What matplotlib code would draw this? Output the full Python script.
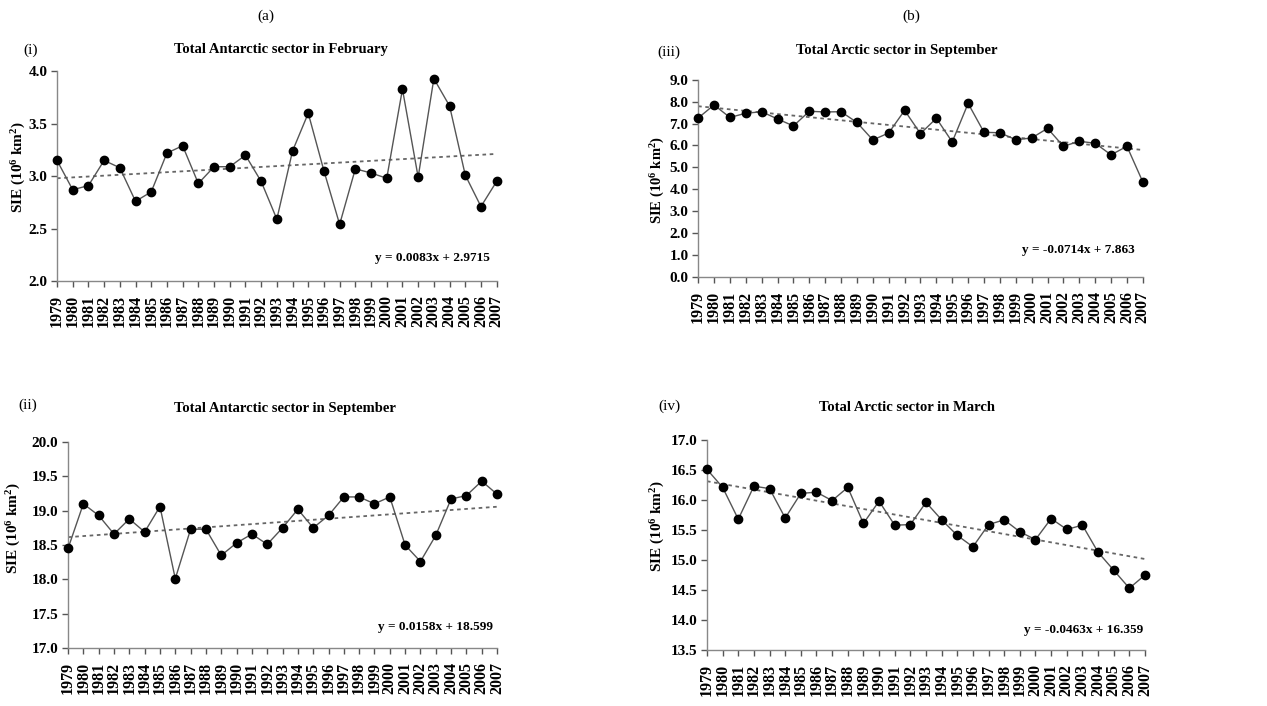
import matplotlib
matplotlib.use("Agg")
import matplotlib.pyplot as plt
import numpy as np

plt.rcParams['font.family'] = ['Liberation Serif', 'DejaVu Serif']
plt.rcParams['mathtext.fontset'] = 'custom'
plt.rcParams['mathtext.rm'] = 'Liberation Serif:bold'
plt.rcParams['mathtext.bf'] = 'Liberation Serif:bold'
plt.rcParams['mathtext.default'] = 'bf'

years = list(range(1979, 2008))
year_labels = [str(y) for y in years]

ant_feb = [3.15, 2.87, 2.91, 3.15, 3.08, 2.76, 2.85, 3.22, 3.29, 2.93,
           3.09, 3.09, 3.20, 2.95, 2.59, 3.24, 3.60, 3.05, 2.54, 3.07,
           3.03, 2.98, 3.83, 2.99, 3.93, 3.67, 3.01, 2.71, 2.95]
arc_sep = [7.25, 7.85, 7.28, 7.47, 7.54, 7.21, 6.89, 7.56, 7.53, 7.54,
           7.05, 6.25, 6.57, 7.60, 6.54, 7.24, 6.16, 7.92, 6.60, 6.58,
           6.26, 6.34, 6.78, 5.96, 6.19, 6.10, 5.57, 5.96, 4.33]
ant_sep = [18.45, 19.10, 18.93, 18.66, 18.88, 18.69, 19.06, 18.01, 18.73, 18.73,
           18.35, 18.53, 18.66, 18.51, 18.75, 19.02, 18.75, 18.93, 19.20, 19.20,
           19.10, 19.20, 18.50, 18.26, 18.64, 19.17, 19.22, 19.43, 19.24]
arc_mar = [16.51, 16.21, 15.68, 16.23, 16.19, 15.70, 16.11, 16.13, 15.99, 16.21,
           15.61, 15.98, 15.58, 15.59, 15.96, 15.67, 15.41, 15.22, 15.59, 15.67,
           15.47, 15.34, 15.69, 15.51, 15.58, 15.13, 14.83, 14.53, 14.75]

# trend coefficients (slope, intercept) as printed on the chart
trend_ant_feb = (0.0083, 2.9715)
trend_arc_sep = (-0.0714, 7.863)
trend_ant_sep = (0.0158, 18.599)
trend_arc_mar = (-0.0463, 16.359)

titles = ['Total Antarctic sector in February', 'Total Arctic sector in September',
          'Total Antarctic sector in September', 'Total Arctic sector in March']
eq_texts = ['y = 0.0083x + 2.9715', 'y = -0.0714x + 7.863',
            'y = 0.0158x + 18.599', 'y = -0.0463x + 16.359']

fig = plt.figure(figsize=(12.67, 7.06), dpi=100)

panels = [
    dict(rect=[0.045, 0.602, 0.347, 0.297], data=ant_feb, trend=trend_ant_feb,
         ylim=(2.0, 4.0), yticks=np.arange(2.0, 4.01, 0.5), eq=eq_texts[0],
         eqpos=(0.984, 0.11), ylab=(-0.066, 0.545), ylfs=11),
    dict(rect=[0.551, 0.608, 0.351, 0.279], data=arc_sep, trend=trend_arc_sep,
         ylim=(0.0, 9.0), yticks=np.arange(0.0, 9.01, 1.0), eq=eq_texts[1],
         eqpos=(0.982, 0.137), ylab=(-0.069, 0.49), ylfs=10.5),
    dict(rect=[0.0537, 0.082, 0.3386, 0.292], data=ant_sep, trend=trend_ant_sep,
         ylim=(17.0, 20.0), yticks=np.arange(17.0, 20.01, 0.5), eq=eq_texts[2],
         eqpos=(0.99, 0.10), ylab=(-0.105, 0.58), ylfs=11),
    dict(rect=[0.558, 0.0793, 0.3457, 0.2975], data=arc_mar, trend=trend_arc_mar,
         ylim=(13.5, 17.0), yticks=np.arange(13.5, 17.01, 0.5), eq=eq_texts[3],
         eqpos=(0.995, 0.095), ylab=(-0.091, 0.59), ylfs=11),
]

for p in panels:
    ax = fig.add_axes(p['rect'])
    x = np.arange(1, len(years) + 1)
    slope, icpt = p['trend']
    ax.plot(x, slope * x + icpt, color='#666666', lw=1.3, ls=(0, (2, 2)), zorder=2)
    ax.plot(x, p['data'], color='#555555', lw=1.0, marker='o', markersize=6,
            markerfacecolor='black', markeredgecolor='black', zorder=3, clip_on=False)
    ax.set_xlim(1, len(years))
    ax.set_ylim(*p['ylim'])
    ax.set_yticks(p['yticks'])
    ax.set_yticklabels([f'{v:.1f}' for v in p['yticks']], fontsize=11, fontweight='bold')
    ax.set_xticks(x)
    ax.set_xticklabels(year_labels, rotation=90, fontsize=11.5, fontweight='bold')
    for s in ['top', 'right']:
        ax.spines[s].set_visible(False)
    for s in ['left', 'bottom']:
        ax.spines[s].set_color('#888888')
        ax.spines[s].set_linewidth(1.0)
    ax.tick_params(axis='both', direction='out', length=4, width=1, color='#555555')
    ax.tick_params(axis='x', pad=6)
    ax.tick_params(axis='y', pad=3)
    ax.set_ylabel(r'SIE (10$^{6}$ km$^{2}$)', fontsize=p['ylfs'], fontweight='bold')
    ax.yaxis.set_label_coords(*p['ylab'])
    ax.text(p['eqpos'][0], p['eqpos'][1], p['eq'], transform=ax.transAxes,
            ha='right', va='center', fontsize=9.5, fontweight='bold')

fig.text(0.21, 0.977, '(a)', ha='center', va='center', fontsize=11)
fig.text(0.719, 0.977, '(b)', ha='center', va='center', fontsize=11)
fig.text(0.024, 0.929, '(i)', ha='center', va='center', fontsize=11)
fig.text(0.528, 0.926, '(iii)', ha='center', va='center', fontsize=11)
fig.text(0.022, 0.426, '(ii)', ha='center', va='center', fontsize=11)
fig.text(0.528, 0.424, '(iv)', ha='center', va='center', fontsize=11)
fig.text(0.222, 0.930, titles[0], ha='center', va='center', fontsize=10.5, fontweight='bold')
fig.text(0.708, 0.929, titles[1], ha='center', va='center', fontsize=10.5, fontweight='bold')
fig.text(0.225, 0.421, titles[2], ha='center', va='center', fontsize=10.5, fontweight='bold')
fig.text(0.716, 0.423, titles[3], ha='center', va='center', fontsize=10.5, fontweight='bold')

fig.savefig('out.png', dpi=100)
